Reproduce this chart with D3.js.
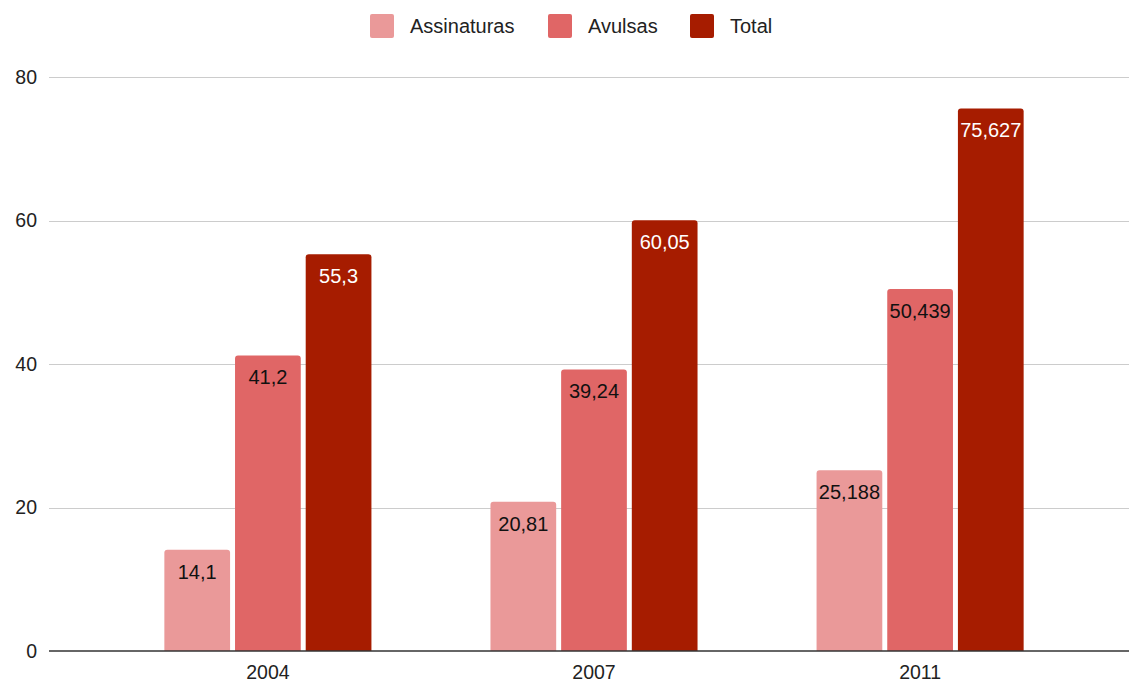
<!DOCTYPE html>
<html>
<head>
<meta charset="utf-8">
<script src="https://cdn.jsdelivr.net/npm/d3@7"></script>
<style>
  body { margin: 0; background: #fff; }
  svg { font-family: "Liberation Sans", Arial, sans-serif; }
</style>
</head>
<body>
<script>
const categories = ['2004', '2007', '2011'];
const seriesNames = ['Assinaturas', 'Avulsas', 'Total'];
const assinaturas = [14.1, 20.81, 25.188];
const avulsas = [41.2, 39.24, 50.439];
const total = [55.3, 60.05, 75.627];
const yTicks = [0, 20, 40, 60, 80];

const colors = ['#ea9999', '#e06666', '#a61c00'];
const labelColors = ['#111', '#111', '#fff'];

const width = 1129, height = 684;
const margin = {top: 77, bottom: 33, left: 49, right: 0};

const rows = categories.map((c, i) => ({
  cat: c,
  values: [assinaturas[i], avulsas[i], total[i]]
}));

const svg = d3.select('body').append('svg')
  .attr('width', width)
  .attr('height', height);

const y = d3.scaleLinear()
  .domain([0, 80])
  .range([height - margin.bottom, margin.top]);

const x0 = d3.scaleBand()
  .domain(categories)
  .range([60, 1128])
  .paddingInner(0.365)
  .paddingOuter(0.32);

const x1 = d3.scaleBand()
  .domain(seriesNames)
  .range([0, x0.bandwidth()])
  .paddingInner(0.07);

// grid
svg.append('g')
  .selectAll('line')
  .data(yTicks.filter(d => d > 0))
  .enter()
  .append('line')
  .attr('x1', margin.left)
  .attr('x2', width - margin.right)
  .attr('y1', d => Math.round(y(d)) + 0.5)
  .attr('y2', d => Math.round(y(d)) + 0.5)
  .attr('stroke', '#cccccc')
  .attr('stroke-width', 1);

// y labels
svg.append('g')
  .selectAll('text')
  .data(yTicks)
  .enter()
  .append('text')
  .attr('x', 37)
  .attr('y', d => y(d))
  .attr('dy', '0.35em')
  .attr('text-anchor', 'end')
  .attr('font-size', 19.5)
  .attr('fill', '#222')
  .text(d => d);

const roundTop = (x, yTop, w, h, r) => {
  r = Math.min(r, h);
  return `M${x},${yTop + h}V${yTop + r}Q${x},${yTop} ${x + r},${yTop}` +
    `H${x + w - r}Q${x + w},${yTop} ${x + w},${yTop + r}V${yTop + h}Z`;
};

const groups = svg.append('g')
  .selectAll('g')
  .data(rows)
  .enter()
  .append('g')
  .attr('transform', d => `translate(${x0(d.cat)},0)`);

const cells = groups.selectAll('g')
  .data(d => d.values.map((v, i) => ({name: seriesNames[i], v, i})))
  .enter()
  .append('g');

cells.append('path')
  .attr('d', d => roundTop(x1(d.name), y(d.v), x1.bandwidth(), y(0) - y(d.v), 3))
  .attr('fill', d => colors[d.i]);

const fmt = v => String(v).replace('.', ',');

cells.append('text')
  .attr('x', d => x1(d.name) + x1.bandwidth() / 2)
  .attr('y', d => y(d.v) + 22)
  .attr('dy', '0.35em')
  .attr('text-anchor', 'middle')
  .attr('font-size', 20)
  .attr('fill', d => labelColors[d.i])
  .text(d => fmt(d.v));

// x axis line
svg.append('line')
  .attr('x1', margin.left)
  .attr('x2', width)
  .attr('y1', y(0))
  .attr('y2', y(0))
  .attr('stroke', '#333')
  .attr('stroke-width', 1.5);

svg.append('g')
  .selectAll('text')
  .data(categories)
  .enter()
  .append('text')
  .attr('x', d => x0(d) + x0.bandwidth() / 2)
  .attr('y', 672)
  .attr('dy', '0.35em')
  .attr('text-anchor', 'middle')
  .attr('font-size', 19.5)
  .attr('fill', '#222')
  .text(d => d);

// legend
const legendX = [370, 548, 690];
const legend = svg.append('g')
  .selectAll('g')
  .data(seriesNames)
  .enter()
  .append('g')
  .attr('transform', (d, i) => `translate(${legendX[i]},14)`);

legend.append('rect')
  .attr('width', 24)
  .attr('height', 24)
  .attr('rx', 2)
  .attr('fill', (d, i) => colors[i]);

legend.append('text')
  .attr('x', 40)
  .attr('y', 12)
  .attr('dy', '0.35em')
  .attr('font-size', 20)
  .attr('fill', '#222')
  .text(d => d);
</script>
</body>
</html>
